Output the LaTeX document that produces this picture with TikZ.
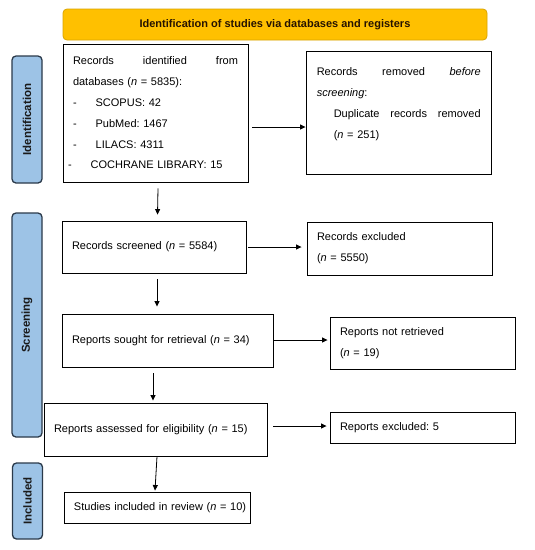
\documentclass[tikz,border=0pt]{standalone}
\usepackage{fontspec}
\setmainfont{Liberation Sans}
\frenchspacing
\usetikzlibrary{arrows.meta,calc}
\definecolor{bannerfill}{HTML}{FFC000}
\definecolor{bannerdraw}{HTML}{D9A400}
\definecolor{tabfill}{HTML}{9DC3E6}
\definecolor{tabdraw}{HTML}{2B3A4A}
\definecolor{tabtext}{HTML}{1A1A1A}
\tikzset{
  box/.style={draw=black, line width=0.9pt, fill=white, rectangle, inner xsep=10pt, inner ysep=0pt,
    align=left, font=\fontsize{11}{20.8}\selectfont},
  tab/.style={draw=tabdraw, line width=1.3pt, fill=tabfill, rounded corners=4pt, rectangle,
    minimum width=30pt, inner sep=0pt},
  tablabel/.style={rotate=90, font=\fontsize{11.5}{13}\selectfont\bfseries, text=tabtext},
  arr/.style={-{Triangle[length=5.5pt,width=5pt]}, line width=0.8pt, black},
}
\begin{document}
\begin{tikzpicture}[x=1pt,y=-1pt]
\useasboundingbox (0,0) rectangle (535,550);
\fill[white] (0,0) rectangle (535,550);

% banner
\node[draw=bannerdraw, fill=bannerfill, line width=0.8pt, rounded corners=4pt,
  minimum width=424pt, minimum height=31pt, inner sep=0pt,
  font=\fontsize{11}{13}\selectfont\bfseries, text=black!85!orange] (banner) at (275,24.5)
  {Identification of studies via databases and registers};

% side tabs
\node[tab, minimum height=127pt] (tabid) at (27,119.5) {};
\node[tablabel] (tabidl) at (tabid.center) {Identification};
\node[tab, minimum height=224pt] (tabsc) at (27,325) {};
\node[tablabel] (tabscl) at (tabsc.center) {Screening};
\node[tab, minimum height=76pt] (tabin) at (27.5,501) {};
\node[tablabel] (tabinl) at (tabin.center) {Included};

% boxes
\node[box, minimum height=138pt, text width=165pt] (id) at (155.5,113) {%
Records\hfill identified\hfill from\\
databases (\textit{n} = 5835):\\
-\hspace{19pt}SCOPUS: 42\\
-\hspace{19pt}PubMed: 1467\\
-\hspace{19pt}LILACS: 4311\\
\hspace*{-5pt}-\hspace{19pt}COCHRANE LIBRARY: 15};

\node[box, minimum height=123pt, minimum width=185pt] (removed) at (398.5,112.5) {};
\node[anchor=north west, inner sep=0pt, text width=164pt, align=left,
  font=\fontsize{11}{21}\selectfont] (removedtxt) at ($(removed.north west)+(11,17)$) {%
Records\hfill removed\hfill \textit{before}\\
\textit{screening}:\\
\hspace*{17pt}Duplicate\hfill records\hfill removed\\
\hspace*{17pt}(\textit{n} = 251)};

\node[box, minimum height=52pt, text width=170pt, inner xsep=7pt] (screened) at (154,247)
  {\hspace*{3pt}\mbox{Records screened (\textit{n} = 5584)}};
\node[box, minimum height=53pt, text width=165pt] (excluded) at (399.5,248.5)
  {Records excluded\\(\textit{n} = 5550)};
\node[box, minimum height=53pt, text width=197pt, inner xsep=7pt] (sought) at (167.5,340.5)
  {\hspace*{3pt}\mbox{Reports sought for retrieval (\textit{n} = 34)}};
\node[box, minimum height=52pt, text width=165pt] (notretr) at (422.5,343)
  {Reports not retrieved\\(\textit{n} = 19)};
\node[box, minimum height=53pt, text width=209pt, inner xsep=7pt] (assessed) at (155.5,429.5)
  {\hspace*{3pt}\mbox{Reports assessed for eligibility (\textit{n} = 15)}};
\node[box, minimum height=31pt, text width=165pt] (excl5) at (422.5,427.5)
  {\mbox{Reports excluded: 5}};
\node[box, minimum height=31pt, text width=176pt, inner xsep=5pt] (studies) at (157,507.5)
  {\hspace*{5pt}\mbox{Studies included in review (\textit{n} = 10)}};

% connectors
\draw[arr] ($(id.east)+(4,14)$) coordinate (a1) -- (a1 -| removed.west);
\draw[arr] ($(id.south)+(2.5,6)$) -- ($(screened.north)+(3.5,-6)$);
\draw[arr] ($(screened.east)+(2,0)$) -- ($(excluded.west)+(-5,-1.5)$);
\draw[arr] ($(screened.south)+(3,6)$) -- ($(sought.north)+(-10.5,-7)$);
\draw[arr] ($(sought.east)+(0,-0.5)$) coordinate (a2) -- ($(a2 -| notretr.west)+(-2,0)$);
\draw[arr] ($(sought.south)+(-14.5,6)$) -- ($(assessed.north)+(-2.5,-2)$);
\draw[arr] ($(assessed.east)+(6,-3.5)$) coordinate (a3) -- ($(a3 -| excl5.west)+(-3,0)$);
\draw[arr] ($(assessed.south)+(1.5,0)$) -- ($(studies.north)+(-2,-1)$);
\end{tikzpicture}
\end{document}
